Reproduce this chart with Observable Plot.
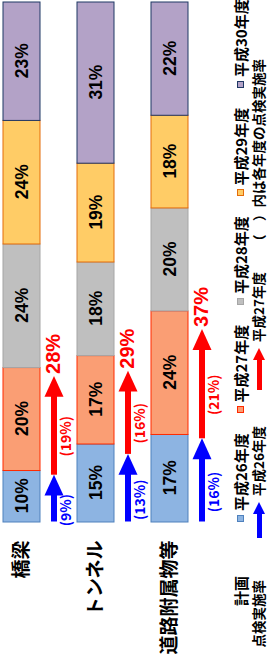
<!DOCTYPE html>
<html><head><meta charset="utf-8">
<script src="https://cdn.jsdelivr.net/npm/d3@7"></script>
<script src="https://cdn.jsdelivr.net/npm/@observablehq/plot@0.6"></script>
<style>
html,body{margin:0;padding:0;background:#fff;overflow:hidden;width:268px;height:668px}
#fig{position:absolute;left:0;top:0;width:668px;height:290px;transform-origin:0 0;transform:translateY(668px) rotate(-90deg);font-family:"Noto Sans CJK JP",sans-serif;color:#000;background:#fff}
#chart{position:absolute;left:0;top:0}
.row{position:absolute;left:0;height:18px;display:flex;align-items:center;font-weight:bold;font-size:15px;white-space:nowrap;line-height:1}
.row2{font-size:13.5px}
.lab{position:absolute;right:0;text-align:right}
.item{position:absolute;display:flex;align-items:center}
.sw{display:inline-block;width:5px;height:5px;border:1.5px solid;margin-right:4px}
.arr{display:inline-block;position:relative;height:13px;margin-right:6px}
.arr::before{content:"";position:absolute;left:0;top:4px;height:5px;right:11px;background:currentColor}
.arr::after{content:"";position:absolute;right:0;top:0;width:0;height:0;border-top:6.5px solid transparent;border-bottom:6.5px solid transparent;border-left:12px solid currentColor}
</style></head><body>
<div id="fig"><div id="chart"></div><div id="legend"></div></div>
<script>
// categories and series (percent of inspections per fiscal year)
const categories = ["橋梁", "トンネル", "道路附属物等"];
const years = ["平成26年度", "平成27年度", "平成28年度", "平成29年度", "平成30年度"];
const plan26 = [10, 15, 17];
const plan27 = [20, 17, 24];
const plan28 = [24, 18, 20];
const plan29 = [24, 19, 18];
const plan30 = [23, 31, 22];
// actual inspection rates
const done26 = [9, 13, 16];
const done27 = [19, 16, 21];
const doneTotal = [28, 29, 37];
// legend texts
const planLabel = "計画";
const doneLabel = "点検実施率";
const arrowLabels = ["平成26年度", "平成27年度"];
const noteLabel = "（　）内は各年度の点検実施率";
// styles
const fillColors = ["#8db4e2", "#fa9e74", "#bfbfbf", "#ffcc66", "#b3a2c7"];
const lineColors = ["#4f81bd", "#ff2a00", "#a6a6a6", "#e46c0a", "#1f3864"];
const blue = "#0000ff", red = "#ff0000";
const narrow = '"Liberation Sans Narrow","Arial Narrow","Liberation Sans",sans-serif';

const planSeries = [plan26, plan27, plan28, plan29, plan30];
const rows = [];
categories.forEach((c, i) => years.forEach((y, j) => rows.push({
  cat: c, year: y, value: planSeries[j][i], fill: fillColors[j], line: lineColors[j]
})));
const arrows = categories.map((c, i) => ({
  cat: c, zero: 0, a: done26[i] / 100, b: doneTotal[i] / 100,
  d26: done26[i], d27: done27[i], total: doneTotal[i]
}));

const head = {draw(ctx, size) {
  const r = Math.sqrt(size / Math.PI);
  ctx.moveTo(0, 0); ctx.lineTo(-2.2 * r, -r); ctx.lineTo(-2.2 * r, r); ctx.closePath();
}};
const AY = 32;

const chart = Plot.plot({
  width: 668, height: 232,
  marginLeft: 146, marginRight: 2, marginTop: 0, marginBottom: 0,
  x: {domain: [0, 1], axis: null},
  y: {domain: categories, range: [2, 189], paddingInner: 0.5, paddingOuter: 0},
  color: {type: "identity"},
  style: {fontFamily: '"Noto Sans CJK JP",sans-serif', background: "white", color: "black", overflow: "visible"},
  marks: [
    Plot.barX(rows, Plot.stackX({x: "value", y: "cat", offset: "normalize", fill: "fill", stroke: "line", strokeWidth: 1})),
    Plot.text(rows, Plot.stackX({x: "value", y: "cat", offset: "normalize", text: d => d.value + "%",
      fontSize: 17.5, fontWeight: "bold", fontFamily: narrow, fill: "black"})),
    Plot.axisY({tickSize: 0, tickPadding: 19, fontSize: 19, fontWeight: "bold", label: null}),
    Plot.arrow(arrows, {x1: "a", x2: "b", y1: "cat", y2: "cat", dy: AY, stroke: red, strokeWidth: 6,
      headLength: 0, insetEnd: 12, strokeLinecap: "butt"}),
    Plot.dot(arrows, {x: "b", y: "cat", dy: AY, symbol: head, r: 9.5, fill: red, stroke: "none"}),
    Plot.arrow(arrows, {x1: "zero", x2: "a", y1: "cat", y2: "cat", dy: AY, stroke: blue, strokeWidth: 6,
      headLength: 0, insetEnd: 12, strokeLinecap: "butt"}),
    Plot.dot(arrows, {x: "a", y: "cat", dy: AY, symbol: head, r: 9.5, fill: blue, stroke: "none"}),
    Plot.text(arrows, {x: "b", y: "cat", dy: AY, dx: 2, text: d => d.total + "%", textAnchor: "start",
      fill: red, fontSize: 20, fontWeight: "bold", fontFamily: narrow}),
    Plot.text(arrows, {x: d => (d.a + d.b) / 2, y: "cat", dy: AY + 13, dx: -11, text: d => `(${d.d27}%)`,
      fill: red, fontSize: 14, fontWeight: "bold"}),
    Plot.text(arrows, {x: d => d.a / 2, y: "cat", dy: AY + 13, dx: -12, text: d => `(${d.d26}%)`,
      fill: blue, fontSize: 14, fontWeight: "bold"})
  ]
});
document.getElementById("chart").appendChild(chart);

// legend (below the chart in the unrotated figure)
const legend = document.getElementById("legend");
const row1 = document.createElement("div");
row1.className = "row"; row1.style.top = "231px"; row1.style.width = "668px";
row1.innerHTML = `<span class="lab" style="right:576px">${planLabel}</span>` +
  years.map((y, j) => `<span class="item" style="left:${146 + j * 108.5}px"><span class="sw" style="background:${fillColors[j]};border-color:${lineColors[j]}"></span>${y}</span>`).join("");
legend.appendChild(row1);
const row2 = document.createElement("div");
row2.className = "row row2"; row2.style.top = "250px"; row2.style.width = "668px";
row2.innerHTML = `<span class="lab" style="right:580px">${doneLabel}</span>` +
  `<span class="item" style="left:130px"><span class="arr" style="width:36px;color:${blue}"></span>${arrowLabels[0]}</span>` +
  `<span class="item" style="left:278px"><span class="arr" style="width:42px;color:${red}"></span>${arrowLabels[1]}</span>` +
  `<span class="item" style="left:420px">${noteLabel}</span>`;
legend.appendChild(row2);
</script>
</body></html>
